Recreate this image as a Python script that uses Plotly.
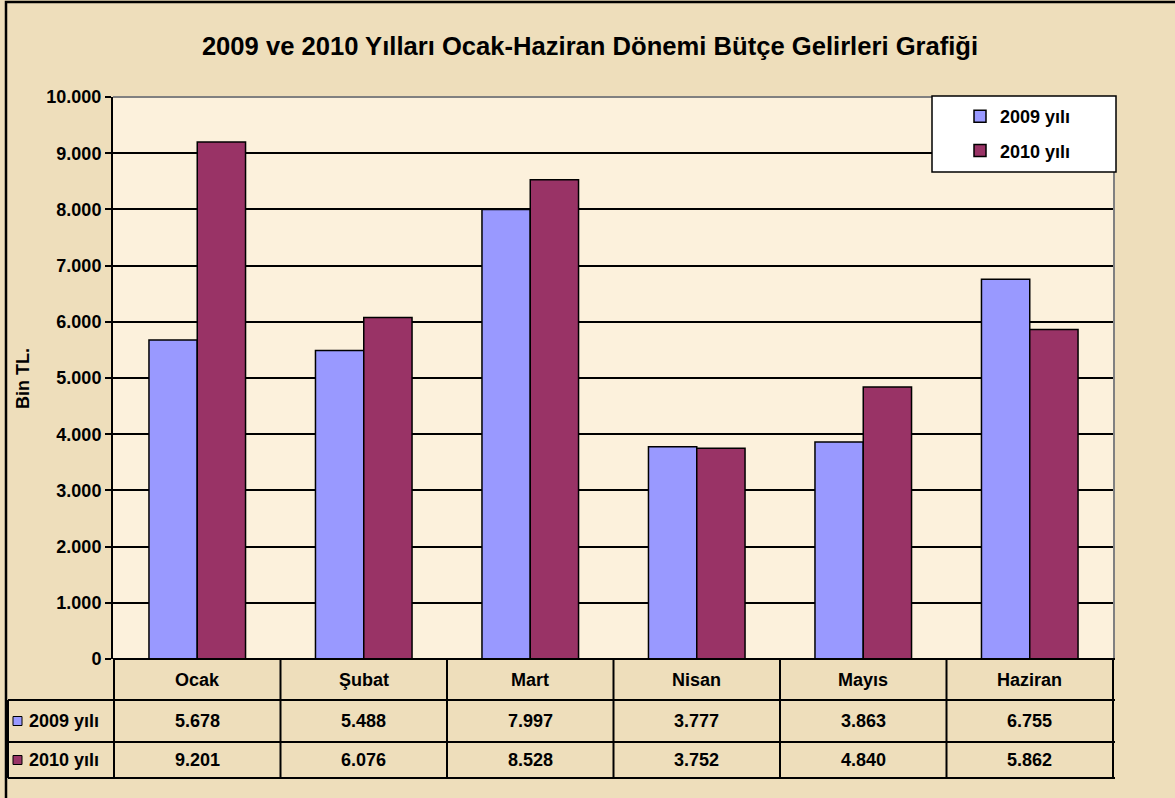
import plotly.graph_objects as go

W, H = 1175, 798
OFF = 0  # body margin removed via post_script

months = ["Ocak", "Şubat", "Mart", "Nisan", "Mayıs", "Haziran"]
vals_2009 = [5678, 5488, 7997, 3777, 3863, 6755]
vals_2010 = [9201, 6076, 8528, 3752, 4840, 5862]
series_names = ["2009 yılı", "2010 yılı"]
y_ticks = list(range(0, 10001, 1000))

c2009 = "#9999FF"
c2010 = "#993366"
FONT = "Liberation Sans, Arial, sans-serif"


def px_x(p):
    return (p - OFF) / W


def px_y(p):
    return 1 - (p - OFF) / H


def fmt(v):
    return f"{v:,}".replace(",", ".")


plot_l, plot_r, plot_t, plot_b = 113, 1114, 97, 659
tab_l, tab_r = 8, 1115
row1, row2, row3 = 700, 742, 778

fig = go.Figure()
fig.add_trace(go.Bar(x=months, y=vals_2009, name=f"<b>{series_names[0]}</b>",
                     marker=dict(color=c2009, line=dict(color="black", width=1.5)),
                     legendgroup="a"))
fig.add_trace(go.Bar(x=months, y=vals_2010, name=f"<b>{series_names[1]}</b>",
                     marker=dict(color=c2010, line=dict(color="black", width=1.5)),
                     legendgroup="b"))

shapes = []
# outer chart frame
shapes.append(dict(type="rect", xref="paper", yref="paper",
                   x0=px_x(6), x1=px_x(1200), y0=px_y(2), y1=px_y(830),
                   line=dict(color="black", width=2.5), fillcolor="rgba(0,0,0,0)", layer="below"))
# plot area border (gray top/right)
shapes.append(dict(type="line", xref="paper", yref="paper",
                   x0=px_x(plot_l), x1=px_x(plot_r), y0=px_y(plot_t), y1=px_y(plot_t),
                   line=dict(color="#808080", width=2), layer="above"))
shapes.append(dict(type="line", xref="paper", yref="paper",
                   x0=px_x(plot_r), x1=px_x(plot_r), y0=px_y(plot_t), y1=px_y(plot_b),
                   line=dict(color="#808080", width=2), layer="above"))
# table horizontal lines
for yy in (row1, row2, row3):
    shapes.append(dict(type="line", xref="paper", yref="paper",
                       x0=px_x(tab_l), x1=px_x(tab_r), y0=px_y(yy), y1=px_y(yy),
                       line=dict(color="black", width=2)))
shapes.append(dict(type="line", xref="paper", yref="paper",
                   x0=px_x(plot_l), x1=px_x(tab_r), y0=px_y(plot_b), y1=px_y(plot_b),
                   line=dict(color="black", width=2)))
# table left border
shapes.append(dict(type="line", xref="paper", yref="paper",
                   x0=px_x(tab_l), x1=px_x(tab_l), y0=px_y(row1), y1=px_y(row3),
                   line=dict(color="black", width=2)))
# table vertical lines at category boundaries
for i in range(len(months) + 1):
    shapes.append(dict(type="line", xref="x", yref="paper",
                       x0=i - 0.5, x1=i - 0.5, y0=px_y(plot_b), y1=px_y(row3),
                       line=dict(color="black", width=2)))
# legend box
shapes.append(dict(type="rect", xref="paper", yref="paper",
                   x0=px_x(932), x1=px_x(1116), y0=px_y(96), y1=px_y(172),
                   line=dict(color="black", width=1.5), fillcolor="white", layer="above"))
# row label swatches
for yc, col in ((721, c2009), (760, c2010)):
    shapes.append(dict(type="rect", xref="paper", yref="paper",
                       x0=px_x(13), x1=px_x(22), y0=px_y(yc - 4.5), y1=px_y(yc + 4.5),
                       line=dict(color="black", width=1), fillcolor=col))

ann = []
tfont = dict(family=FONT, size=18, color="black")
for i, m in enumerate(months):
    ann.append(dict(x=m, y=px_y(680), xref="x", yref="paper", text=f"<b>{m}</b>",
                    showarrow=False, font=tfont, xanchor="center", yanchor="middle"))
    ann.append(dict(x=m, y=px_y(721), xref="x", yref="paper", text=f"<b>{fmt(vals_2009[i])}</b>",
                    showarrow=False, font=tfont, xanchor="center", yanchor="middle"))
    ann.append(dict(x=m, y=px_y(760), xref="x", yref="paper", text=f"<b>{fmt(vals_2010[i])}</b>",
                    showarrow=False, font=tfont, xanchor="center", yanchor="middle"))
for yc, nm in ((721, series_names[0]), (760, series_names[1])):
    ann.append(dict(x=px_x(27), y=px_y(yc), xref="paper", yref="paper", text=f"<b>{nm}</b>",
                    showarrow=False, font=tfont, xanchor="left", yanchor="middle"))
ann.append(dict(x=px_x(23), y=px_y(378), xref="paper", yref="paper", text="<b>Bin TL.</b>",
                showarrow=False, font=dict(family=FONT, size=18, color="black"),
                textangle=-90, xanchor="center", yanchor="middle"))

fig.update_layout(
    width=W, height=H,
    margin=dict(l=0, r=0, t=0, b=0, autoexpand=False),
    paper_bgcolor="#EEDEBB",
    plot_bgcolor="#FCF1DC",
    separators=",.",
    barmode="group",
    bargap=0.42,
    bargroupgap=0,
    title=dict(text="<b>2009 ve 2010 Yılları Ocak-Haziran Dönemi Bütçe Gelirleri Grafiği</b>",
               x=px_x(590), xanchor="center", y=px_y(46), yanchor="middle",
               font=dict(family=FONT, size=25.6, color="black")),
    xaxis=dict(domain=[px_x(plot_l), px_x(plot_r)], showticklabels=False, ticks="",
               showgrid=False, showline=False, zeroline=False, automargin=False),
    yaxis=dict(domain=[px_y(plot_b), px_y(plot_t)], range=[0, 10000],
               tickvals=y_ticks, tickformat=",.0f", ticks="outside", ticklen=6,
               tickcolor="black", tickwidth=1.5,
               tickfont=dict(family=FONT, size=18, color="black", weight="bold"),
               showgrid=True, gridcolor="black", gridwidth=1.5,
               showline=True, linecolor="black", linewidth=2, zeroline=False,
               automargin=False),
    showlegend=True,
    legend=dict(x=px_x(960), y=px_y(98), xanchor="left", yanchor="top",
                bgcolor="rgba(0,0,0,0)", borderwidth=0,
                font=dict(family=FONT, size=18, color="black"),
                traceorder="grouped", tracegroupgap=8, itemwidth=30),
    shapes=shapes,
    annotations=ann,
)

fig.write_html("out.html",
               config={"displayModeBar": False},
               post_script="document.body.style.margin='0';document.body.style.background='#EEDEBB';")
